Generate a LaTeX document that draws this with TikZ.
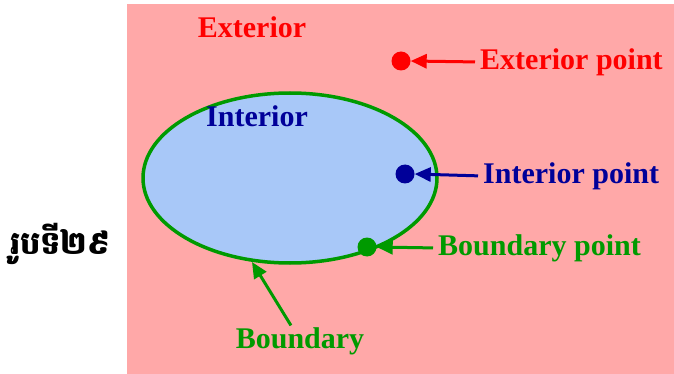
\documentclass[tikz,border=0pt]{standalone}
\usepackage{fontspec}
\setmainfont{Liberation Serif}
\newfontfamily\khmerfont[Script=Khmer]{Battambang}
\usetikzlibrary{arrows.meta}
\definecolor{bgpink}{HTML}{FFA8A8}
\definecolor{inblue}{HTML}{A8C8F8}
\definecolor{exred}{HTML}{FF0000}
\definecolor{dkblue}{HTML}{000099}
\definecolor{grn}{HTML}{009A00}
\tikzset{
  lbl/.style={font=\fontsize{30}{32}\selectfont\bfseries, inner sep=0pt},
  ptr/.style={line width=3pt, shorten <=5pt, -{Triangle[length=16pt,width=14pt]}},
  dot/.style={circle, inner sep=0pt, minimum size=19pt},
}
\begin{document}
\begin{tikzpicture}[x=1pt,y=-1pt]
\useasboundingbox (0,0) rectangle (674,374);
\fill[bgpink] (127,4) rectangle (674,374);
\node[font=\khmerfont\fontsize{32}{36}\selectfont\bfseries, inner sep=0pt] (cap) at (60,244) {រូបទី២៩};
\draw[grn, line width=3.5pt, fill=inblue] (290,178) ellipse [x radius=147, y radius=85];
\node[lbl, exred] (ext) at (252,27) {Exterior};
\node[lbl, dkblue] (int) at (257,116) {Interior};
% exterior point
\node[dot, fill=exred] (ep) at (401,61) {};
\node[lbl, exred, anchor=west] (ept) at (480,62) {Exterior point};
\draw[ptr, exred] (ept.west) -- (ep.east);
% interior point
\node[dot, fill=dkblue] (ip) at (405,174) {};
\node[lbl, dkblue, anchor=west] (ipt) at (483,176) {Interior point};
\draw[ptr, dkblue] (ipt.west) -- (ip.east);
% boundary point
\node[dot, fill=grn] (bp) at (367,247) {};
\node[lbl, grn, anchor=west] (bpt) at (438,248) {Boundary point};
\draw[ptr, grn] (bpt.west) -- (bp.east);
% boundary
\node[lbl, grn] (bd) at (300,341) {Boundary};
\coordinate (bdtip) at (252,262);
\draw[ptr, grn, shorten <=2pt] ([xshift=-8pt]bd.north) -- (bdtip);
\end{tikzpicture}
\end{document}
